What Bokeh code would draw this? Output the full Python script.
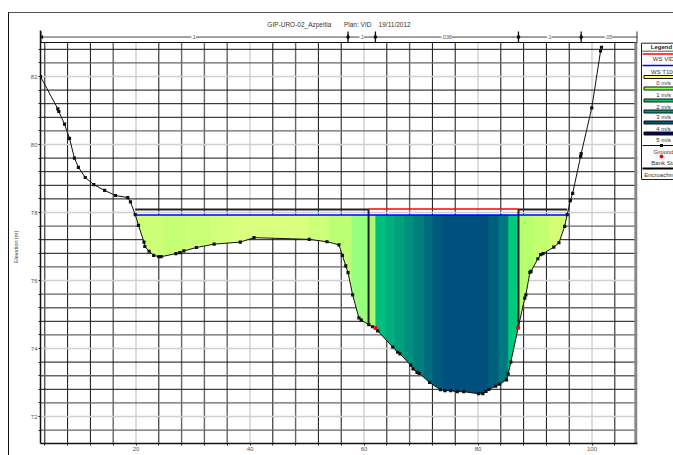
from bokeh.plotting import figure
from bokeh.models import Label, LinearAxis, FixedTicker, Range1d
from bokeh.core.properties import value
from bokeh.layouts import row
from bokeh.embed import file_html
from bokeh.resources import INLINE
import numpy as np

# ---------- data ----------
title_text = "GIP-URO-02_Azpeitia\u00a0\u00a0\u00a0\u00a0\u00a0\u00a0\u00a0Plan: VID\u00a0\u00a0\u00a0\u00a019/11/2012"
y_label = "Elevation (m)" + "\u00a0" * 13
ground_x = [3.25,6.28,6.46,7.46,8.33,9.2,9.9,11.1,12.6,14.5,16.4,18.56,19.03,19.86,20.44,21.4,21.55,22.3,23.1,24.0,24.4,
            27.0,27.7,28.4,30.6,33.7,38.3,40.7,50.4,53.5,55.6,56.2,56.8,57.2,58.0,59.1,59.5,60.84,61.5,62.0,62.4,
            65.05,65.9,66.3,68.2,68.6,69.3,69.7,71.5,73.4,74.2,75.2,76.35,77.5,80.1,80.85,81.4,81.9,83.1,83.8,85.0,
            85.3,85.75,87.05,88.2,88.4,89.1,89.3,90.5,91.0,91.4,93.3,94.2,95.2,95.65,96.2,96.6,98.0,98.1,99.96,101.5,101.66]
ground_y = [82.0,81.05,80.97,80.6,80.18,79.6,79.33,79.03,78.82,78.65,78.5,78.44,78.31,77.94,77.62,77.13,77.0,76.86,76.74,76.7,76.7,
            76.79,76.82,76.87,76.97,77.07,77.13,77.26,77.21,77.14,77.05,76.74,76.43,76.23,75.58,74.9,74.84,74.7,74.64,74.6,74.52,
            74.04,73.89,73.84,73.51,73.4,73.3,73.27,73.0,72.79,72.76,72.76,72.73,72.73,72.67,72.67,72.74,72.8,72.89,72.95,73.08,
            73.25,73.6,74.61,75.48,75.58,76.24,76.27,76.64,76.76,76.79,76.98,77.11,77.59,77.94,78.35,78.56,79.65,79.73,81.08,82.75,82.86]
bank_x = [62.0, 87.05]
bank_y = [74.6, 74.61]
ws_t100 = 77.93
ws_t100_x = [19.86, 95.65]
ws_vid = 78.1
ws_vid_x = [60.8, 87.1]
encroach_left_x = [19.86, 60.8, 60.8]
encroach_left_y = [78.09, 78.09, 74.7]
encroach_right_x = [87.1, 87.1, 95.65]
encroach_right_y = [74.6, 78.09, 78.09]
band_edges = [19.86,24.8,29.0,33.1,37.1,40.1,50.3,53.8,57.8,60.8,62.0,63.8,65.4,67.1,68.7,70.5,72.0,73.8,81.8,83.6,85.3,87.1,89.7,92.5,95.65]
band_colors = ["#ccff76","#c6ff74","#ccff78","#d4ff7c","#daff80","#daff80","#ceff78","#bcff76","#96ff7c","#a8fa74",
               "#00be7d","#00af7d","#00a07d","#00917d","#007f7d","#006c7d","#005a7d","#00507d","#005f7d",
               "#00787d","#00c87d","#b8ff6e","#c4ff70","#d4ff74"]
reach_ticks = [57.2, 62.0, 87.1, 98.1]
n_values = [".1", ".1", ".036", ".1", ".05"]
n_x = [30.1, 59.6, 74.5, 92.5, 102.9]
x_grid = list(range(4, 108, 4))
x_grid_tone = ["k","k","k","d","l","k","d","d","d","l","k","d","k","k","l","k","d","k","k","l","k","k","k","k","l","k"]
y_grid = [71.6,72.0,72.4,72.8,73.2,73.6,74.0,74.4,74.8,75.2,75.6,76.0,76.4,76.8,77.2,77.6,78.0,78.4,78.8,79.2,79.6,80.0,80.4,80.8,81.2,81.6,82.0,82.4,82.8]
y_grid_tone = ["d","l","d","k","d","k","l","d","k","d","d","l","d","k","k","d","l","k","k","k","k","l","d","k","k","k","l","d","k"]
legend_rows = [("line","#ff0000","WS VID"),("line","#0000ff","WS T100"),("box","#ffff66","0 m/s"),("box","#99ff66","1 m/s"),
               ("box","#00cc66","2 m/s"),("box","#009977","3 m/s"),("box","#005577","4 m/s"),("box","#000066","5 m/s"),
               ("ground","#000000","Ground"),("dot","#ff0000","Bank Sta"),("thick","#000000","Encroachment")]

# ---------- main figure ----------
FONT = "Liberation Sans"
X0, X1 = 3.246, 107.98
Y0, Y1 = 71.206, 83.353
p = figure(width=631, height=442, output_backend="svg", toolbar_location=None,
           x_range=Range1d(X0, X1), y_range=Range1d(Y0, Y1), x_axis_type=None, y_axis_type=None,
           min_border_left=31, min_border_right=3, min_border_top=17, min_border_bottom=12)
p.outline_line_color = None
p.xgrid.visible = False
p.ygrid.visible = False

p.title.text = title_text
p.title.align = "center"
p.title.text_font = FONT
p.title.text_font_size = "6.5px"
p.title.text_font_style = "normal"
p.title.text_color = "#333333"
p.title.standoff = 6

xax = LinearAxis(ticker=FixedTicker(ticks=x_grid), major_label_overrides={v: (str(v) if v % 20 == 0 else "") for v in x_grid})
yax = LinearAxis(ticker=FixedTicker(ticks=y_grid), major_label_overrides={v: (str(int(v)) if abs(v/2-round(v/2)) < 1e-6 else "") for v in y_grid})
for ax in (xax, yax):
    ax.axis_line_color = "#111111"
    ax.axis_line_width = 1.5
    ax.major_tick_line_color = "#222222"
    ax.major_tick_out = 2
    ax.major_tick_in = 0
    ax.minor_tick_line_color = None
    ax.major_label_text_font = FONT
    ax.major_label_text_font_size = "6px"
    ax.major_label_text_color = "#555555"
    ax.major_label_standoff = 1
yax.axis_label = y_label
yax.axis_label_standoff = 9
yax.axis_label_text_font = FONT
yax.axis_label_text_font_size = "5.5px"
yax.axis_label_text_font_style = "normal"
yax.axis_label_text_color = "#444444"
p.add_layout(xax, "below")
p.add_layout(yax, "left")

TONE = {"k": ("#111111", 1.0), "d": ("#666666", 1.4), "l": ("#cfcfcf", 1.4)}
p.segment(x0=x_grid, x1=x_grid, y0=[Y0]*len(x_grid), y1=[83.0]*len(x_grid),
          line_color=[TONE[t][0] for t in x_grid_tone], line_width=[TONE[t][1] for t in x_grid_tone])
p.segment(x0=[X0]*len(y_grid), x1=[X1]*len(y_grid), y0=y_grid, y1=y_grid,
          line_color=[TONE[t][0] for t in y_grid_tone], line_width=[TONE[t][1] for t in y_grid_tone])
p.segment(x0=[X0], x1=[X1], y0=[83.0], y1=[83.0], line_color="#111111", line_width=1.2)
p.segment(x0=[X1-0.28], x1=[X1-0.28], y0=[Y0], y1=[83.0], line_color="#888888", line_width=3.2)

# water, one band per velocity colour; each band slightly overlaps the next to hide seams
gx, gy = np.array(ground_x), np.array(ground_y)
for i, (a, b, c) in enumerate(zip(band_edges[:-1], band_edges[1:], band_colors)):
    end = b if i == len(band_colors) - 1 else b + 0.2
    inner = gx[(gx > a) & (gx < end)]
    xs = np.concatenate(([a], inner, [end]))
    ys = np.minimum(np.interp(xs, gx, gy), ws_t100)
    p.varea(x=xs, y1=ys, y2=[ws_t100]*len(xs), fill_color=c)

p.line(ground_x, ground_y, line_color="#111111", line_width=1)
p.scatter(ground_x, ground_y, marker="square", size=3.2, fill_color="#111111", line_color=None)
p.line(encroach_left_x, encroach_left_y, line_color="#222222", line_width=2)
p.line(encroach_right_x, encroach_right_y, line_color="#222222", line_width=2)
p.line(ws_vid_x, [ws_vid]*2, line_color="#ff0000", line_width=1.5)
p.line(ws_t100_x, [ws_t100]*2, line_color="#0000ff", line_width=1.5)
p.scatter(bank_x, bank_y, marker="circle", size=4, fill_color="#ff0000", line_color=None)

# reach lengths bar above the section
BAR = 83.16
p.segment(x0=[X0], x1=[X1], y0=[BAR], y1=[BAR], line_color="#444444", line_width=1)
ends = [X0 + 0.05] + reach_ticks + [X1 - 0.05]
p.segment(x0=ends, x1=ends, y0=[83.0]*len(ends), y1=[83.32]*len(ends), line_color="#111111", line_width=1.3)
p.scatter(reach_ticks, [BAR]*len(reach_ticks), marker="diamond", size=6, fill_color="#111111", line_color=None)
p.scatter([X0 + 0.25], [BAR], marker="triangle", angle=1.57, size=4, fill_color="#111111", line_color=None)
for t, x in zip(n_values, n_x):
    p.add_layout(Label(x=x, y=BAR, text=t, text_font=FONT, text_font_size="5.5px", text_color="#555555",
                       text_align="center", text_baseline="middle", background_fill_color="white"))

# ---------- legend panel, its ranges are page pixels; the row aligns its frame with the main frame ----------
LEFT, RIGHT, TOP, BOTTOM = 640, 673, 30, 443
q = figure(width=RIGHT-LEFT, height=442, output_backend="svg", toolbar_location=None,
           x_range=Range1d(LEFT, RIGHT), y_range=Range1d(BOTTOM, TOP), x_axis_type=None, y_axis_type=None,
           min_border_left=0, min_border_right=0, min_border_top=0, min_border_bottom=0)
q.outline_line_color = None
q.xgrid.visible = False
q.ygrid.visible = False
LX, LT, LB, LR = 641, 42.7, 179, 690
TEXT_X = 663
q.quad(left=[LX], right=[LR], top=[LT], bottom=[LB], fill_color="white", line_color="#222222", line_width=1)
q.quad(left=[LX], right=[LR], top=[50.2], bottom=[50.9], fill_color="#222222", line_color=None)
row_y = [53.5, 65, 76.5, 88, 100, 111, 122, 133, 145, 156, 168]
lab_y = [58.5, 71, 82, 94, 106, 116, 128, 139, 151, 162, 174]
for (kind, col, text), ry, ly in zip(legend_rows, row_y, lab_y):
    if kind == "line":
        q.quad(left=[LX+1], right=[LR], top=[ry-0.7], bottom=[ry+0.7], fill_color=col, line_color=None)
    elif kind == "box":
        q.quad(left=[LX+2.5], right=[LR], top=[ry-1.5], bottom=[ry+1.5], fill_color=col, line_color="#111111", line_width=1)
    elif kind == "ground":
        q.quad(left=[LX+1], right=[LR], top=[ry-0.4], bottom=[ry+0.4], fill_color="#111111", line_color=None)
        q.quad(left=[659.5], right=[662.5], top=[ry-1.5], bottom=[ry+1.5], fill_color="#111111", line_color=None)
    elif kind == "dot":
        q.scatter([661], [ry], marker="circle", size=4, fill_color=col, line_color=None)
    else:
        q.quad(left=[LX+1], right=[LR], top=[ry-0.9], bottom=[ry+0.9], fill_color=col, line_color=None)
    q.text([TEXT_X], [ly], text=[text], text_font=value(FONT), text_font_size="6px", text_color="#333333",
           text_align="center", text_baseline="middle")
q.text([TEXT_X-2], [46.3], text=["Legend"], text_font=value(FONT), text_font_size="6px", text_font_style="bold",
       text_color="#222222", text_align="center", text_baseline="middle")

page = row(p, q, spacing=0, margin=(12, 0, 0, 8),
           styles={"border-top": "1px solid #555555", "border-left": "1px solid #111111"})
open("out.html", "w").write(file_html(page, INLINE))
